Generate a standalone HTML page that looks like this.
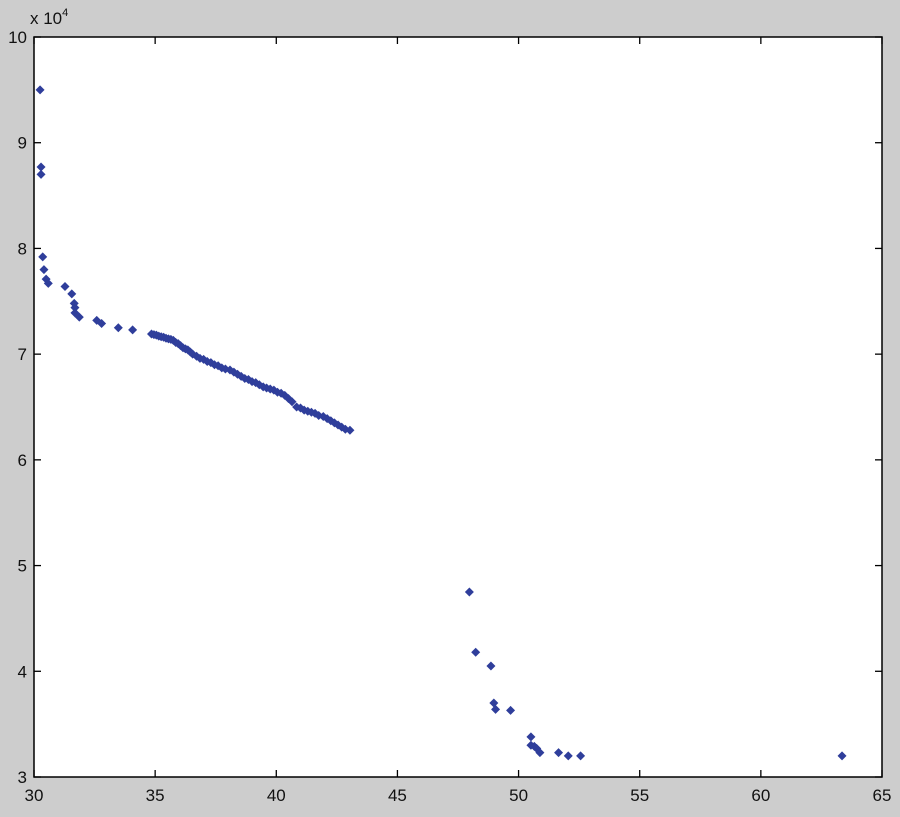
<!DOCTYPE html>
<html><head><meta charset="utf-8"><style>
html,body{margin:0;padding:0;background:#cdcdcd;}
svg{display:block;font-family:"Liberation Sans",Arial,sans-serif;}
</style></head><body>
<svg id="chart" width="900" height="817" xmlns="http://www.w3.org/2000/svg">
<rect x="0" y="0" width="900" height="817" fill="#cdcdcd"/>
<rect x="34" y="37" width="848" height="740" fill="#ffffff"/>
<g id="ticks"></g>
<g id="points"></g>
<rect x="34" y="37" width="848" height="740" fill="none" stroke="#000" stroke-width="1.5"/>
<text x="30" y="24" font-size="17" fill="#111">x 10<tspan dy="-8" font-size="11">4</tspan></text>
</svg>
<script>
const xTicks=[30,35,40,45,50,55,60,65];
const yTicks=[3,4,5,6,7,8,9,10];
const xVals=[30.25,30.29,30.29,30.36,30.41,30.50,30.59,31.28,31.56,31.66,31.69,31.69,31.87,32.59,32.79,33.48,34.07,
34.85,34.95,35.05,35.15,35.25,35.35,35.45,35.55,35.65,35.75,35.85,35.95,36.05,36.15,36.25,36.35,36.45,36.55,36.71,36.85,37.0,37.15,37.3,37.45,37.6,37.75,37.9,38.09,38.25,38.4,38.55,38.7,38.85,39.0,39.15,39.3,39.46,39.6,39.75,39.9,40.05,40.2,40.35,40.5,40.65,40.84,41.0,41.15,41.3,41.45,41.6,41.75,41.94,42.1,42.25,42.4,42.55,42.7,42.85,43.04,
47.97,48.23,48.86,48.98,49.05,49.67,50.51,50.51,50.65,50.75,50.88,51.65,52.05,52.56,63.35];
const yVals=[9.50,8.77,8.70,7.92,7.80,7.71,7.67,7.64,7.57,7.48,7.44,7.39,7.35,7.32,7.29,7.25,7.23,
7.19,7.185,7.18,7.17,7.165,7.16,7.15,7.145,7.14,7.13,7.11,7.10,7.08,7.06,7.05,7.04,7.02,7.00,6.98,6.96,6.95,6.93,6.92,6.90,6.89,6.87,6.86,6.85,6.83,6.81,6.79,6.77,6.76,6.74,6.73,6.71,6.69,6.68,6.67,6.66,6.64,6.63,6.61,6.58,6.55,6.50,6.49,6.47,6.46,6.45,6.44,6.42,6.41,6.39,6.37,6.35,6.33,6.31,6.29,6.28,
4.75,4.18,4.05,3.70,3.64,3.63,3.38,3.30,3.29,3.27,3.23,3.23,3.20,3.20,3.20];
const L=34,R=882,T=37,B=777;
const sx=v=>L+(v-30)/35*(R-L);
const sy=v=>B-(v-3)/7*(B-T);
const NS="http://www.w3.org/2000/svg";
const tg=document.getElementById('ticks');
xTicks.forEach(t=>{
  const x=sx(t);
  [[B,B-7],[T,T+7]].forEach(p=>{const l=document.createElementNS(NS,'line');
    l.setAttribute('x1',x);l.setAttribute('x2',x);l.setAttribute('y1',p[0]);l.setAttribute('y2',p[1]);
    l.setAttribute('stroke','#000');l.setAttribute('stroke-width','1.3');
    
    
    tg.appendChild(l);});
  const tx=document.createElementNS(NS,'text');
  tx.setAttribute('x',x);tx.setAttribute('y',801);tx.setAttribute('text-anchor','middle');
  tx.setAttribute('font-size','17');tx.setAttribute('fill','#111');tx.textContent=t;
  
  
  tg.appendChild(tx);
});
yTicks.forEach(t=>{
  const y=sy(t);
  [[L,L+7],[R,R-7]].forEach(p=>{const l=document.createElementNS(NS,'line');
    l.setAttribute('x1',p[0]);l.setAttribute('x2',p[1]);l.setAttribute('y1',y);l.setAttribute('y2',y);
    l.setAttribute('stroke','#000');l.setAttribute('stroke-width','1.3');
    
    
    tg.appendChild(l);});
  const tx=document.createElementNS(NS,'text');
  tx.setAttribute('x',27);tx.setAttribute('y',y+6);tx.setAttribute('text-anchor','end');
  tx.setAttribute('font-size','17');tx.setAttribute('fill','#111');tx.textContent=t;
  
  
  tg.appendChild(tx);
});
const pg=document.getElementById('points');
xVals.forEach((xv,i)=>{
  const x=sx(xv),y=sy(yVals[i]);
  const p=document.createElementNS(NS,'polygon');
  p.setAttribute('points',`${x},${y-4.5} ${x+4.5},${y} ${x},${y+4.5} ${x-4.5},${y}`);
  p.setAttribute('fill','#2f3e9b');
  
  
  pg.appendChild(p);
});
</script>
</body></html>
